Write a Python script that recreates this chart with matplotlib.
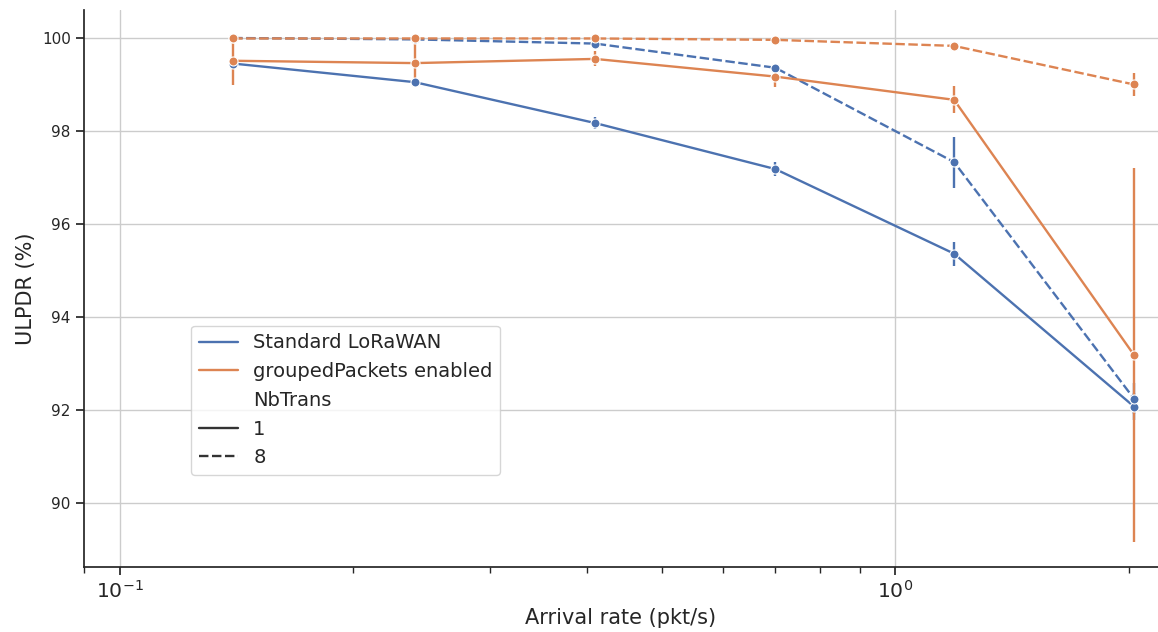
import numpy as np
import matplotlib
matplotlib.use("Agg")
import matplotlib.pyplot as plt
import matplotlib.lines as mlines
import seaborn as sns

sns.set_theme(style="ticks")
palette = sns.color_palette("deep")

# arrival rates (pkt/s)
rates = [0.140, 0.240, 0.410, 0.700, 1.19, 2.03]

# mean ULPDR (%) and CI half-width per config
std_nb1 = [99.45, 99.05, 98.17, 97.18, 95.36, 92.07]
std_nb1_err = [0.04, 0.07, 0.12, 0.16, 0.26, 0.29]
std_nb8 = [100.0, 99.97, 99.88, 99.36, 97.33, 92.24]
std_nb8_err = [0.01, 0.02, 0.04, 0.06, 0.55, 0.33]
grp_nb1 = [99.51, 99.46, 99.55, 99.17, 98.67, 93.18]
grp_nb1_err = [0.52, 0.43, 0.16, 0.22, 0.29, 4.03]
grp_nb8 = [99.99, 99.99, 99.99, 99.96, 99.83, 99.00]
grp_nb8_err = [0.01, 0.01, 0.01, 0.02, 0.07, 0.24]

series = [
    (std_nb1, std_nb1_err, palette[0], "-"),
    (std_nb8, std_nb8_err, palette[0], (0, (4, 1.5))),
    (grp_nb1, grp_nb1_err, palette[1], "-"),
    (grp_nb8, grp_nb8_err, palette[1], (0, (4, 1.5))),
]

fig = plt.figure(figsize=(11.58, 6.32), dpi=100)
ax = fig.add_axes([0.0725, 0.103, 0.9275, 0.881])

for ys, errs, colour, ls in series:
    ax.plot(rates, ys, color=colour, linestyle=ls, linewidth=1.7,
            marker="o", markersize=6.5, markeredgecolor="white", markeredgewidth=0.8, zorder=3)
    ax.errorbar(rates, ys, yerr=errs, fmt="none", ecolor=colour, elinewidth=1.7, zorder=2)

ax.set_xscale("log")
ax.set_xlim(0.0899, 2.18)
ax.set_ylim(88.62, 100.6)
ax.set_yticks([90, 92, 94, 96, 98, 100])
ax.grid(True, which="major", color="#cccccc", linewidth=1)
ax.tick_params(axis="y", labelsize=11, length=6, width=1.25)
ax.tick_params(axis="x", which="major", labelsize=14.7, length=6, width=1.25)
ax.tick_params(axis="x", which="minor", length=4, width=1)
ax.set_xlabel("Arrival rate (pkt/s)", fontsize=15)
ax.set_ylabel("ULPDR (%)", fontsize=15)
sns.despine(ax=ax)
for s in ["left", "bottom"]:
    ax.spines[s].set_linewidth(1.25)

#legend: hue entries, then the NbTrans sub-title and style entries
handles = [
    mlines.Line2D([], [], color=palette[0], linewidth=1.7, label="Standard LoRaWAN"),
    mlines.Line2D([], [], color=palette[1], linewidth=1.7, label="groupedPackets enabled"),
    mlines.Line2D([], [], color="none", label="NbTrans"),
    mlines.Line2D([], [], color=".2", linewidth=1.7, label="1"),
    mlines.Line2D([], [], color=".2", linewidth=1.7, linestyle=(0, (4, 1.5)), label="8"),
]
ax.legend(handles=handles, loc="lower left", bbox_to_anchor=(0.0996, 0.165),
          borderaxespad=0, fontsize=14, frameon=True)

fig.savefig("out.png", dpi=100)
